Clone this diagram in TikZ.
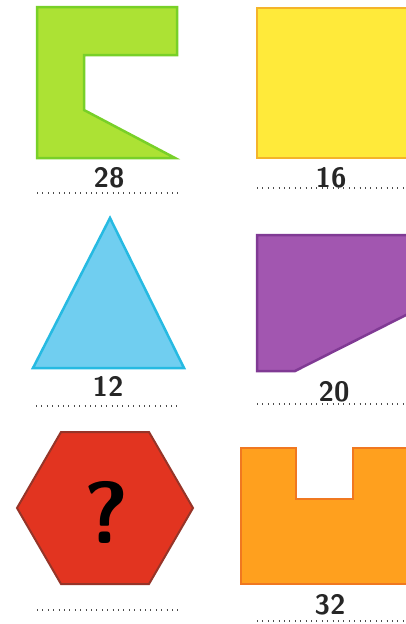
\documentclass[tikz,border=0pt]{standalone}
\usepackage{tikz}

\definecolor{verde}{RGB}{172,226,52}
\definecolor{verdeb}{RGB}{120,208,40}
\definecolor{amarelo}{RGB}{255,234,58}
\definecolor{amarelob}{RGB}{244,180,42}
\definecolor{azul}{RGB}{112,206,240}
\definecolor{azulb}{RGB}{38,186,226}
\definecolor{roxo}{RGB}{162,86,176}
\definecolor{roxob}{RGB}{128,58,148}
\definecolor{vermelho}{RGB}{226,52,32}
\definecolor{vermelhob}{RGB}{150,52,40}
\definecolor{laranja}{RGB}{255,160,30}
\definecolor{laranjab}{RGB}{240,120,32}

\tikzset{
  peca/.style={line width=2.5pt, line join=miter},
  valor/.style={font=\fontsize{28}{30}\selectfont\sffamily\bfseries, text=black!85, inner sep=0pt},
  pontos/.style={line width=1.3pt, dash pattern=on 1pt off 4.4pt, black!70}
}

\begin{document}
\begin{tikzpicture}[x=1pt,y=-1pt]

    \useasboundingbox (0,0) rectangle (406,624);

    % forma verde
    \draw[peca, verdeb, fill=verde] (37,7) -- (177,7) -- (177,55) -- (84,55)
        -- (84,110) -- (175,158) -- (37,158) -- cycle;
    \node[valor] (v28) at (109,178) {28};
    \draw[pontos] (37,193) -- (182,193);

    % quadrado amarelo
    \draw[peca, amarelob, fill=amarelo] (257,8) rectangle (408,158);
    \node[valor] (v16) at (331,178) {16};
    \draw[pontos] (257,188) -- (406,188);

    % triangulo
    \draw[peca, azulb, fill=azul] (110,218) -- (184,368) -- (33,368) -- cycle;
    \node[valor] (v12) at (108,386) {12};
    \draw[pontos] (36,406) -- (180,406);

    % forma roxa
    \draw[peca, roxob, fill=roxo] (257,235) -- (408,235) -- (408,314)
        -- (295,371) -- (257,371) -- cycle;
    \node[valor] (v20) at (334,392) {20};
    \draw[pontos] (257,404) -- (406,404);

    % hexagono
    \draw[peca, vermelhob, fill=vermelho, line width=2pt]
        (17,508) -- (61,432) -- (149,432) -- (193,508) -- (149,584) -- (61,584) -- cycle;
    \node[font=\fontsize{88}{90}\selectfont\sffamily\bfseries, inner sep=0pt] (q) at (106,512) {?};
    \draw[pontos] (37,610) -- (180,610);

    % forma laranja
    \draw[peca, laranjab, fill=laranja] (241,448) -- (296,448) -- (296,499) -- (353,499)
        -- (353,448) -- (408,448) -- (408,584) -- (241,584) -- cycle;
    \node[valor] (v32) at (330,605) {32};
    \draw[pontos] (257,621) -- (406,621);

\end{tikzpicture}
\end{document}
